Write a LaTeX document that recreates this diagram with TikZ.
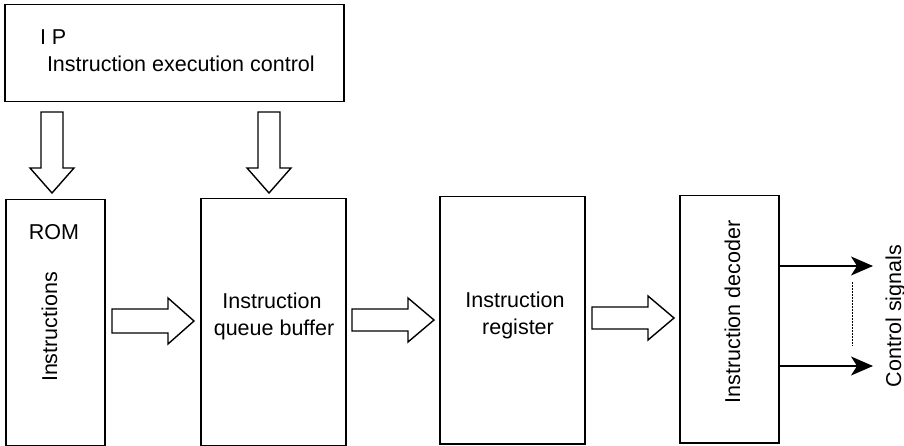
\documentclass[tikz,border=0pt]{standalone}
\usepackage{fontspec}
\setmainfont{Liberation Sans}
\usetikzlibrary{arrows.meta}
\begin{document}
\begin{tikzpicture}[x=1pt,y=-1pt,
  box/.style={draw, line width=1.5pt},
  blockarrow/.style={draw, line width=1.4pt, line join=miter},
  lbl/.style={font=\fontsize{21.5}{27}\selectfont, inner sep=0pt, outer sep=0pt},
  sig/.style={line width=1.2pt, -{Stealth[length=22pt,width=19pt,inset=6pt]}}]
\useasboundingbox (0,0) rectangle (904,446);
% boxes
\node[box, minimum width=339pt, minimum height=97pt, anchor=north west] (ip) at (4,4) {};
\node[box, minimum width=99pt, minimum height=246pt, anchor=north west] (rom) at (5,199) {};
\node[box, minimum width=145pt, minimum height=247pt, anchor=north west] (qb) at (200,198) {};
\node[box, minimum width=145pt, minimum height=247pt, anchor=north west] (ir) at (439,196) {};
\node[box, minimum width=99pt, minimum height=247pt, anchor=north west] (dec) at (679,195) {};
% texts
\node[lbl, anchor=base west] (iptxt) at (40,45) {I P};
\node[lbl, anchor=base west] (iectxt) at (47,72) {Instruction execution control};
\node[lbl, anchor=base] (romtxt) at (54,240) {ROM};
\node[lbl, anchor=base, rotate=90] (instxt) at (57,327) {Instructions};
\node[lbl, anchor=base] (qb1) at (272,308) {Instruction};
\node[lbl, anchor=base] (qb2) at (274,335) {queue buffer};
\node[lbl, anchor=base] (ir1) at (515,307) {Instruction};
\node[lbl, anchor=base] (ir2) at (518,334) {register};
\node[lbl, anchor=base, rotate=90] (dectxt) at (740,312) {Instruction decoder};
\node[lbl, anchor=base, rotate=90] (cstxt) at (901,316) {Control signals};
% vertical block arrows
\draw[blockarrow] (41,112) -- (63,112) -- (63,168) -- (74,168) -- (52,193) -- (30,168) -- (41,168) -- cycle;
\draw[blockarrow] (258,112) -- (280,112) -- (280,168) -- (291,168) -- (269,193) -- (247,168) -- (258,168) -- cycle;
% horizontal block arrows
\draw[blockarrow] (112,309) -- (168,309) -- (168,298) -- (194,321) -- (168,344) -- (168,333) -- (112,333) -- cycle;
\draw[blockarrow] (352,309) -- (408,309) -- (408,298) -- (434,320) -- (408,342) -- (408,331) -- (352,331) -- cycle;
\draw[blockarrow] (592,307) -- (648,307) -- (648,296) -- (674,318) -- (648,340) -- (648,329) -- (592,329) -- cycle;
% control signals
\coordinate (c1) at (873,266);
\coordinate (c2) at (873,366);
\draw[sig] (dec.east |- c1) -- (c1);
\draw[sig] (dec.east |- c2) -- (c2);
\coordinate (d1) at (852,282);
\coordinate (d2) at (852,346);
\draw[line width=0.8pt, dash pattern=on 1.5pt off 1.5pt] (d1) -- (d2);
\end{tikzpicture}
\end{document}
